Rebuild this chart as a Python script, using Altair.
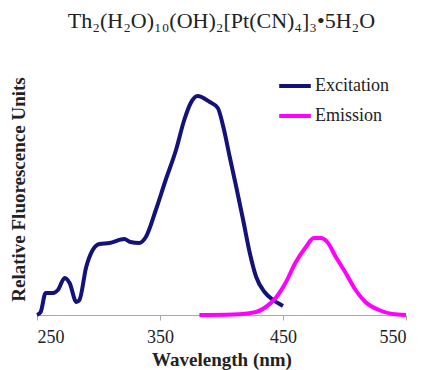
import altair as alt
import pandas as pd

ex_wl = [250, 253, 257, 263, 267, 272.5, 276.5, 282, 284.5, 290, 295.3, 300.8, 309, 321, 326, 333, 338.5,
         346.6, 354.6, 363, 369.7, 375, 380.5, 390.5, 397, 401.5, 406.7, 412, 417.6, 423, 428.2, 435, 442, 448.6, 450]
ex_y = [0, 3, 22, 22, 25, 37, 32, 13, 15, 48, 65, 71, 72, 76, 73, 72, 78,
        105, 135, 165, 195, 212, 219, 213, 207, 188, 158, 128, 95, 62, 38, 23, 15, 10, 9]

em_wl = [382, 409, 428, 436, 444, 452, 460, 468.6, 475, 480.7, 486, 493, 501, 509, 517, 528, 539, 550]
em_y = [0, 0.5, 3, 8, 17, 32, 52, 68, 77, 77, 73, 58, 42, 25, 13, 5, 1, 0]

df = pd.concat([
    pd.DataFrame({"wl": ex_wl, "y": ex_y, "series": "Excitation"}),
    pd.DataFrame({"wl": em_wl, "y": em_y, "series": "Emission"}),
])

serif = "Liberation Serif"

chart = alt.Chart(df).mark_line(strokeWidth=4, interpolate="monotone").encode(
    x=alt.X("wl:Q", scale=alt.Scale(domain=[250, 550], nice=False),
            axis=alt.Axis(values=[250, 350, 450, 550], title="Wavelength (nm)", grid=False,
                          domainColor="#aaaaaa", tickColor="#aaaaaa", tickSize=5,
                          labelFont=serif, labelFontSize=18, labelColor="#222222", labelPadding=8,
                          titleFont=serif, titleFontSize=19, titleFontWeight="bold", titleColor="#222222",
                          titlePadding=4)),
    y=alt.Y("y:Q", scale=alt.Scale(domain=[0, 230], nice=False),
            axis=alt.Axis(title="Relative Fluorescence Units", domain=False, ticks=False, labels=False,
                          grid=False, titleFont=serif, titleFontSize=19, titleFontWeight="bold",
                          titleColor="#222222", titlePadding=9, titleY=104)),
    color=alt.Color("series:N", sort=["Excitation", "Emission"],
                    scale=alt.Scale(domain=["Excitation", "Emission"], range=["#12127a", "#ff00ff"]),
                    legend=alt.Legend(title=None, orient="none", legendX=240, legendY=-17,
                                      symbolType="stroke", symbolSize=1000, symbolStrokeWidth=4,
                                      labelFont=serif, labelFontSize=18, labelColor="#222222",
                                      labelOffset=2, rowPadding=3)),
    detail="series:N",
).properties(
    width=369, height=230,
    title=alt.TitleParams("Th₂(H₂O)₁₀(OH)₂[Pt(CN)₄]₃•5H₂O", font=serif, fontSize=22,
                          fontWeight="normal", color="#222222", anchor="middle", offset=35),
    autosize=alt.AutoSizeParams(type="none"),
    padding={"left": 37, "top": 85, "right": 17, "bottom": 55},
).configure(font=serif).configure_view(stroke=None)

chart.save("out.html", embed_options={"renderer": "svg", "actions": False})
